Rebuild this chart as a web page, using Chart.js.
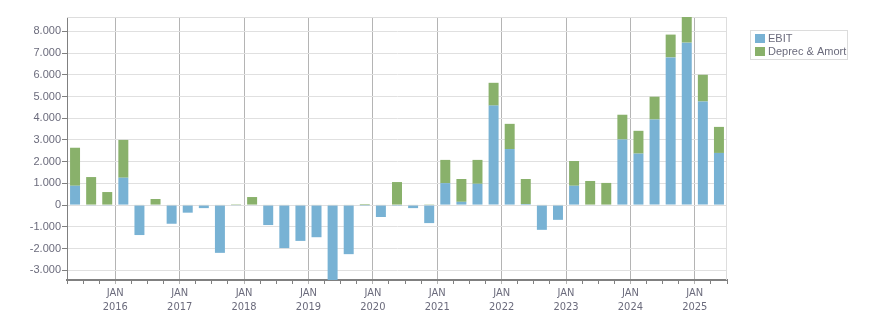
<!DOCTYPE html>
<html>
<head>
<meta charset="utf-8">
<script src="https://cdn.jsdelivr.net/npm/chart.js@4.4.1/dist/chart.umd.min.js"></script>
<style>
    body { margin: 0; background: #fff; }
    #chart { display: block; }
</style>
</head>
<body>
<canvas id="chart" width="876" height="313"></canvas>
<script>
const quarters = [
    '2015-Q2', '2015-Q3', '2015-Q4',
    '2016-Q1', '2016-Q2', '2016-Q3', '2016-Q4',
    '2017-Q1', '2017-Q2', '2017-Q3', '2017-Q4',
    '2018-Q1', '2018-Q2', '2018-Q3', '2018-Q4',
    '2019-Q1', '2019-Q2', '2019-Q3', '2019-Q4',
    '2020-Q1', '2020-Q2', '2020-Q3', '2020-Q4',
    '2021-Q1', '2021-Q2', '2021-Q3', '2021-Q4',
    '2022-Q1', '2022-Q2', '2022-Q3', '2022-Q4',
    '2023-Q1', '2023-Q2', '2023-Q3', '2023-Q4',
    '2024-Q1', '2024-Q2', '2024-Q3', '2024-Q4',
    '2025-Q1', '2025-Q2'
];

const ebit = [
    890, -30, -30,
    1260, -1380, -20, -860,
    -350, -140, -2200, -30,
    -20, -920, -1980, -1650,
    -1480, -3450, -2260, -40,
    -550, -40, -140, -830,
    1010, 150, 980, 4580,
    2580, 50, -1140, -680,
    890, -20, -20, 3020,
    2370, 3940, 6800, 7480,
    4770, 2400
];

const deprecAmort = [
    1750, 1290, 600,
    1740, 20, 280, 20,
    20, 20, 20, 40,
    370, 20, 20, 20,
    20, 20, 20, 50,
    20, 1060, 20, 10,
    1070, 1050, 1100, 1050,
    1160, 1150, 20, 20,
    1140, 1110, 1020, 1140,
    1050, 1050, 1050, 1180,
    1230, 1200
];

const seriesNames = ['EBIT', 'Deprec & Amort'];
const seriesColors = ['#78b2d4', '#89b16b'];
const monthLabel = 'JAN';
const yStep = 1000;

const textColor = '#6b6b7c';

// quarter -> position on a year axis (bar sits in the middle of its quarter)
const quarterPos = q => Number(q.slice(0, 4)) + (Number(q.slice(6)) - 1) * 0.25 + 0.125;
const toPoints = values => values.map((v, i) => ({ x: quarterPos(quarters[i]), y: v }));

const frameAndLegend = {
    id: 'frameAndLegend',
    beforeDatasetsDraw(chart) {
        const { ctx, chartArea: a } = chart;
        ctx.save();
        ctx.strokeStyle = '#dddddd';
        ctx.lineWidth = 1;
        ctx.beginPath();
        ctx.moveTo(a.left, Math.round(a.top) + 0.5);
        ctx.lineTo(a.right, Math.round(a.top) + 0.5);
        ctx.moveTo(Math.round(a.right) - 0.5, a.top);
        ctx.lineTo(Math.round(a.right) - 0.5, a.bottom);
        ctx.stroke();
        ctx.restore();
    },
    afterDraw(chart) {
        const ctx = chart.ctx;
        ctx.save();
        ctx.strokeStyle = '#dcdcdc';
        ctx.lineWidth = 1;
        ctx.strokeRect(750.5, 30.5, 97, 29);
        ctx.font = '11px "Liberation Sans", Arial, sans-serif';
        ctx.textBaseline = 'middle';
        chart.data.datasets.forEach((ds, i) => {
            const y = 34 + i * 13;
            ctx.fillStyle = ds.backgroundColor;
            ctx.fillRect(755, y, 10, 9);
            ctx.fillStyle = textColor;
            ctx.fillText(ds.label, 768, y + 5);
        });
        ctx.restore();
    }
};

new Chart(document.getElementById('chart'), {
    type: 'bar',
    data: {
        datasets: [{
            label: seriesNames[0],
            data: toPoints(ebit),
            backgroundColor: seriesColors[0],
            barPercentage: 0.62,
            categoryPercentage: 1
        }, {
            label: seriesNames[1],
            data: toPoints(deprecAmort),
            backgroundColor: seriesColors[1],
            barPercentage: 0.62,
            categoryPercentage: 1
        }]
    },
    options: {
        responsive: false,
        animation: false,
        devicePixelRatio: 1,
        layout: { padding: { left: 30, right: 149, top: 17, bottom: 0 } },
        plugins: { legend: { display: false }, tooltip: { enabled: false } },
        scales: {
            x: {
                type: 'linear',
                stacked: true,
                offset: false,
                min: 2015.25,
                max: 2025.5,
                afterFit(scale) { scale.height = 33; },
                border: { color: '#808080', width: 2 },
                grid: {
                    offset: false,
                    tickLength: 4,
                    color: ctx => Number.isInteger(ctx.tick?.value) ? '#b4b4b4' : 'rgba(0,0,0,0)',
                    tickColor: ctx => Number.isInteger(ctx.tick?.value) ? '#b4b4b4' : '#808080'
                },
                ticks: {
                    stepSize: 0.25,
                    autoSkip: false,
                    maxRotation: 0,
                    padding: 2,
                    color: textColor,
                    font: { family: '"Liberation Sans Narrow", "DejaVu Sans Condensed", sans-serif', size: 11, lineHeight: 1.27 },
                    callback: v => Number.isInteger(v) ? [monthLabel, String(v)] : ''
                }
            },
            y: {
                stacked: true,
                bounds: 'data',
                afterFit(scale) { scale.width = 37; },
                afterBuildTicks(scale) {
                    const ticks = [];
                    for (let v = Math.ceil(scale.min / yStep) * yStep; v <= scale.max; v += yStep) ticks.push({ value: v });
                    scale.ticks = ticks;
                },
                border: { color: '#808080', width: 1 },
                grid: { color: '#e0e0e0', tickColor: '#808080', tickLength: 5 },
                ticks: {
                    padding: 1,
                    color: textColor,
                    font: { family: '"Liberation Sans", Arial, sans-serif', size: 11 },
                    callback: v => v.toLocaleString('de-DE')
                }
            }
        }
    },
    plugins: [frameAndLegend]
});
</script>
</body>
</html>
